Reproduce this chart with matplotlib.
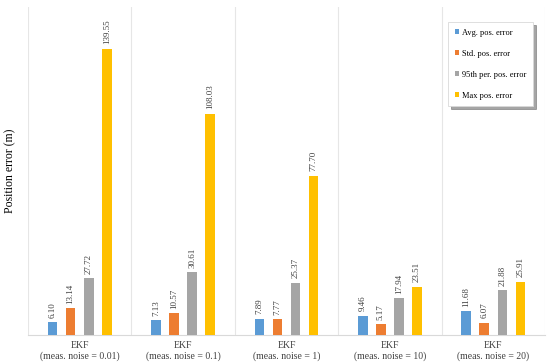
import matplotlib.pyplot as plt
import numpy as np

plt.rcParams['font.family'] = ['Liberation Serif', 'DejaVu Serif']

categories = ["EKF\n(meas. noise = 0.01)", "EKF\n(meas. noise = 0.1)", "EKF\n(meas. noise = 1)",
              "EKF\n(meas. noise = 10)", "EKF\n(meas. noise = 20)"]
series = ["Avg. pos. error", "Std. pos. error", "95th per. pos. error", "Max pos. error"]
avg_err = [6.10, 7.13, 7.89, 9.46, 11.68]
std_err = [13.14, 10.57, 7.77, 5.17, 6.07]
p95_err = [27.72, 30.61, 25.37, 17.94, 21.88]
max_err = [139.55, 108.03, 77.70, 23.51, 25.91]
colors = ["#5B9BD5", "#ED7D31", "#A5A5A5", "#FFC000"]

fig = plt.figure(figsize=(5.5, 3.63), dpi=100)
ax = fig.add_axes([28 / 550, 28 / 363, 517 / 550, 328 / 363])

x = np.arange(len(categories))
width = 0.092
step = 0.175
for i, (vals, name) in enumerate(zip([avg_err, std_err, p95_err, max_err], series)):
    pos = x + (i - 1.5) * step
    bars = ax.bar(pos, vals, width, color=colors[i], label=name, zorder=3)
    for b, v in zip(bars, vals):
        ax.text(b.get_x() + b.get_width() / 2, v + 2.2, f"{v:.2f}", rotation=90,
                ha="center", va="bottom", fontsize=6.5, color="#404040")

ax.set_xlim(-0.5, len(categories) - 0.5)
ax.set_ylim(0, 160)
ax.set_yticks([])
ax.set_xticks(x)
ax.set_xticklabels(categories, fontsize=7, color="#404040", linespacing=1.3)
ax.tick_params(axis="x", length=0, pad=4)
for b in np.arange(-0.5, len(categories), 1.0):
    ax.axvline(b, color="#E6E6E6", linewidth=0.8, zorder=1)
for s in ["top", "right", "left"]:
    ax.spines[s].set_visible(False)
ax.spines["bottom"].set_color("#D9D9D9")
fig.text(10 / 550, 1 - 171 / 363, "Position error (m)", rotation=90,
         ha="center", va="center", fontsize=8.5)

leg = ax.legend(loc="upper right", bbox_to_anchor=(0.977, 0.954), fontsize=6,
                frameon=True, shadow=True, fancybox=False, labelspacing=1.55,
                handlelength=0.5, handleheight=0.5, handletextpad=0.4,
                borderpad=0.8, borderaxespad=0, edgecolor="#D9D9D9")
leg.get_frame().set_linewidth(0.6)

fig.savefig("out.png", dpi=100)
